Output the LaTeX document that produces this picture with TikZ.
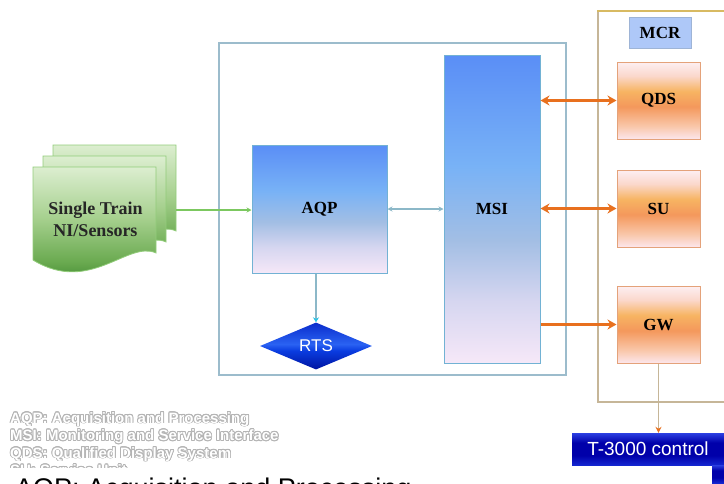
\documentclass[tikz,border=0pt]{standalone}
\usepackage{fontspec}
\setmainfont{Liberation Serif}
\newfontfamily\arialfont{Liberation Sans}
\usepackage{contour}
\contourlength{0.8pt}
\usetikzlibrary{shapes.geometric,arrows.meta}

% colours
\definecolor{framecol}{HTML}{9CBCCC}
\definecolor{blueedge}{HTML}{72B2D4}
\definecolor{orangeedge}{HTML}{E4A27A}
\definecolor{arrorange}{HTML}{E8701E}
\definecolor{mcrtan}{HTML}{C6B698}
\definecolor{mcrgold}{HTML}{D8BA62}
\definecolor{linkblue}{HTML}{8CB8C8}
\definecolor{linkgreen}{HTML}{7CC860}
\definecolor{tipcyan}{HTML}{28C4E6}
\definecolor{docedge}{HTML}{92CC7A}
\definecolor{legendgray}{HTML}{B4B4B4}
\definecolor{mcrfill}{HTML}{AEC8F8}
\definecolor{mcredge}{HTML}{9EB4D6}

% shading colours
\definecolor{ob1}{HTML}{FCE6EC}
\definecolor{ob2}{HTML}{F9C8AC}
\definecolor{ob3}{HTML}{F4985C}
\definecolor{ob4}{HTML}{F7B462}
\definecolor{ob5}{HTML}{FBD8CC}
\definecolor{ob6}{HTML}{FDEFF2}
\definecolor{bb1}{HTML}{F6E8F8}
\definecolor{bb2}{HTML}{D6D6F0}
\definecolor{bb3}{HTML}{A2BEE4}
\definecolor{bb4}{HTML}{78B2F6}
\definecolor{bb5}{HTML}{5A8EF6}
\definecolor{gb1}{HTML}{2A7820}
\definecolor{gb2}{HTML}{6AAA50}
\definecolor{gb3}{HTML}{A6D08E}
\definecolor{gb4}{HTML}{DCEED0}
\definecolor{rb1}{HTML}{0014A0}
\definecolor{rb2}{HTML}{0A3CE0}
\definecolor{rb3}{HTML}{2A62F2}
\definecolor{rb4}{HTML}{0A2CCC}
\definecolor{tb1}{HTML}{1426D0}
\definecolor{tb2}{HTML}{0000AA}
\definecolor{tb3}{HTML}{2C40E2}

% vertical shadings (listed bottom to top; the shape spans 25bp..75bp)
\pgfdeclareverticalshading{orangeshade}{100bp}{color(0bp)=(ob1); color(25bp)=(ob1); color(33bp)=(ob2); color(46bp)=(ob3); color(56bp)=(ob4); color(66bp)=(ob5); color(75bp)=(ob6); color(100bp)=(ob6)}
\pgfdeclareverticalshading{blueshade}{100bp}{color(0bp)=(bb1); color(25bp)=(bb1); color(35bp)=(bb2); color(45bp)=(bb3); color(57bp)=(bb4); color(75bp)=(bb5); color(100bp)=(bb5)}
\pgfdeclareverticalshading{greenshade}{100bp}{color(0bp)=(gb1); color(25bp)=(gb1); color(38bp)=(gb2); color(55bp)=(gb3); color(75bp)=(gb4); color(100bp)=(gb4)}
\pgfdeclareverticalshading{rtsshade}{100bp}{color(0bp)=(rb1); color(25bp)=(rb1); color(45bp)=(rb2); color(52bp)=(rb3); color(75bp)=(rb4); color(100bp)=(rb4)}
\pgfdeclareverticalshading{ctrlshade}{100bp}{color(0bp)=(tb1); color(25bp)=(tb1); color(40bp)=(tb2); color(60bp)=(tb2); color(75bp)=(tb3); color(100bp)=(tb3)}

\tikzset{
  boxfont/.style={font=\bfseries\fontsize{17}{20}\selectfont},
  bluebox/.style={draw=blueedge, line width=1pt, shade, shading=blueshade, boxfont, inner sep=0},
  orangebox/.style={draw=orangeedge, line width=1pt, shade, shading=orangeshade, boxfont,
    minimum width=83, minimum height=77, inner sep=0},
  busarrow/.style={draw=arrorange, line width=3pt, {Stealth[length=9pt,width=10pt]}-{Stealth[length=9pt,width=10pt]}},
  busout/.style={draw=arrorange, line width=3pt, -{Stealth[length=9pt,width=10pt]}},
  legendtext/.style={anchor=base west, inner sep=0, text=white,
    font=\arialfont\bfseries\fontsize{15}{17}\selectfont},
  docshape/.style={draw=docedge, line width=0.8pt, shading=greenshade}
}

\begin{document}
\begin{tikzpicture}[x=1pt,y=-1pt]
\useasboundingbox (0,0) rectangle (724,483);
\clip (0,0) rectangle (724,483);

% MCR room outline
\draw[mcrtan, line width=1.5pt] (730,402) -- (598,402) -- (598,11);
\draw[mcrgold, line width=1.5pt] (597.25,11) -- (730,11);

% system frame
\node[draw=framecol, line width=2pt, minimum width=347, minimum height=332, inner sep=0] (sysbox) at (392.5,209) {};

% stacked sensor documents
\foreach \dx/\dy in {20/-22, 10/-11, 0/0} {
  \begin{scope}[shift={(\dx,\dy)}]
    \shade[docshape] (33,167) -- (156,167) -- (156,253)
      .. controls (128,240) and (90,295) .. (33,260) -- cycle;
  \end{scope}
}
\node[align=center, inner sep=0, font=\bfseries\fontsize{18}{22}\selectfont, text=black!85] (senstext) at (95.5,219) {Single Train\\NI/Sensors};
\coordinate (sensout) at (176,210);

% processing blocks
\node[bluebox, minimum width=135, minimum height=128] (aqp) at (319.5,209) {AQP};
\node[bluebox, minimum width=96, minimum height=308] (msi) at (492,209) {MSI};
\node[diamond, aspect=2.4, shade, shading=rtsshade, minimum width=112, minimum height=47, inner sep=0,
      text=white, font=\arialfont\fontsize{17}{20}\selectfont] (rts) at (316,346) {RTS};

% MCR equipment
\node[draw=mcredge, line width=1pt, fill=mcrfill, minimum width=62, minimum height=31, inner sep=0, boxfont] (mcr) at (660,32.5) {MCR};
\node[orangebox] (qds) at (658.5,100.5) {QDS};
\node[orangebox] (su) at (658.5,208.5) {SU};
\node[orangebox] (gw) at (658.5,324.5) {GW};

% T-3000 control
\node[shade, shading=ctrlshade, minimum width=152, minimum height=32, inner sep=0, text=white,
      font=\arialfont\fontsize{19}{22}\selectfont] (ctrl) at (648,449) {T-3000 control};
\shade[shading=ctrlshade] (712,465) rectangle (724,483);

% connectors
\draw[linkgreen, line width=1.2pt, -{Stealth[length=5pt,width=5pt]}] (sensout) -- (aqp.west |- sensout);
\draw[linkblue, line width=1.3pt, {Stealth[length=5pt,width=5pt]}-{Stealth[length=5pt,width=5pt]}] (aqp.east) -- (aqp.east -| msi.west);
\draw[linkblue, line width=1.5pt, -{Stealth[length=5pt,width=6pt,color=tipcyan]}] (aqp.south -| rts.north) -- (rts.north);
\draw[busarrow] (msi.east |- qds.west) -- (qds.west);
\draw[busarrow] (msi.east |- su.west) -- (su.west);
\draw[busout] (msi.east |- gw.west) -- (gw.west);
\draw[mcrtan, line width=1.5pt, -{Stealth[length=6pt,width=6pt,color=arrorange]}] (gw.south) -- (gw.south |- ctrl.north);

% legend
\node[legendtext] (leg1) at (10,423) {\contour{legendgray}{AQP: Acquisition and Processing}};
\node[legendtext] (leg2) at (10,440.5) {\contour{legendgray}{MSI: Monitoring and Service Interface}};
\node[legendtext] (leg3) at (10,458) {\contour{legendgray}{QDS: Qualified Display System}};
\node[legendtext] (leg4) at (10,475.5) {\contour{legendgray}{SU: Service Unit}};
\fill[white] (0,468) rectangle (560,483);
\node[anchor=base west, inner sep=0, font=\arialfont\fontsize{27}{30}\selectfont] (caption) at (15,497) {AQP: Acquisition and Processing};
\end{tikzpicture}
\end{document}
